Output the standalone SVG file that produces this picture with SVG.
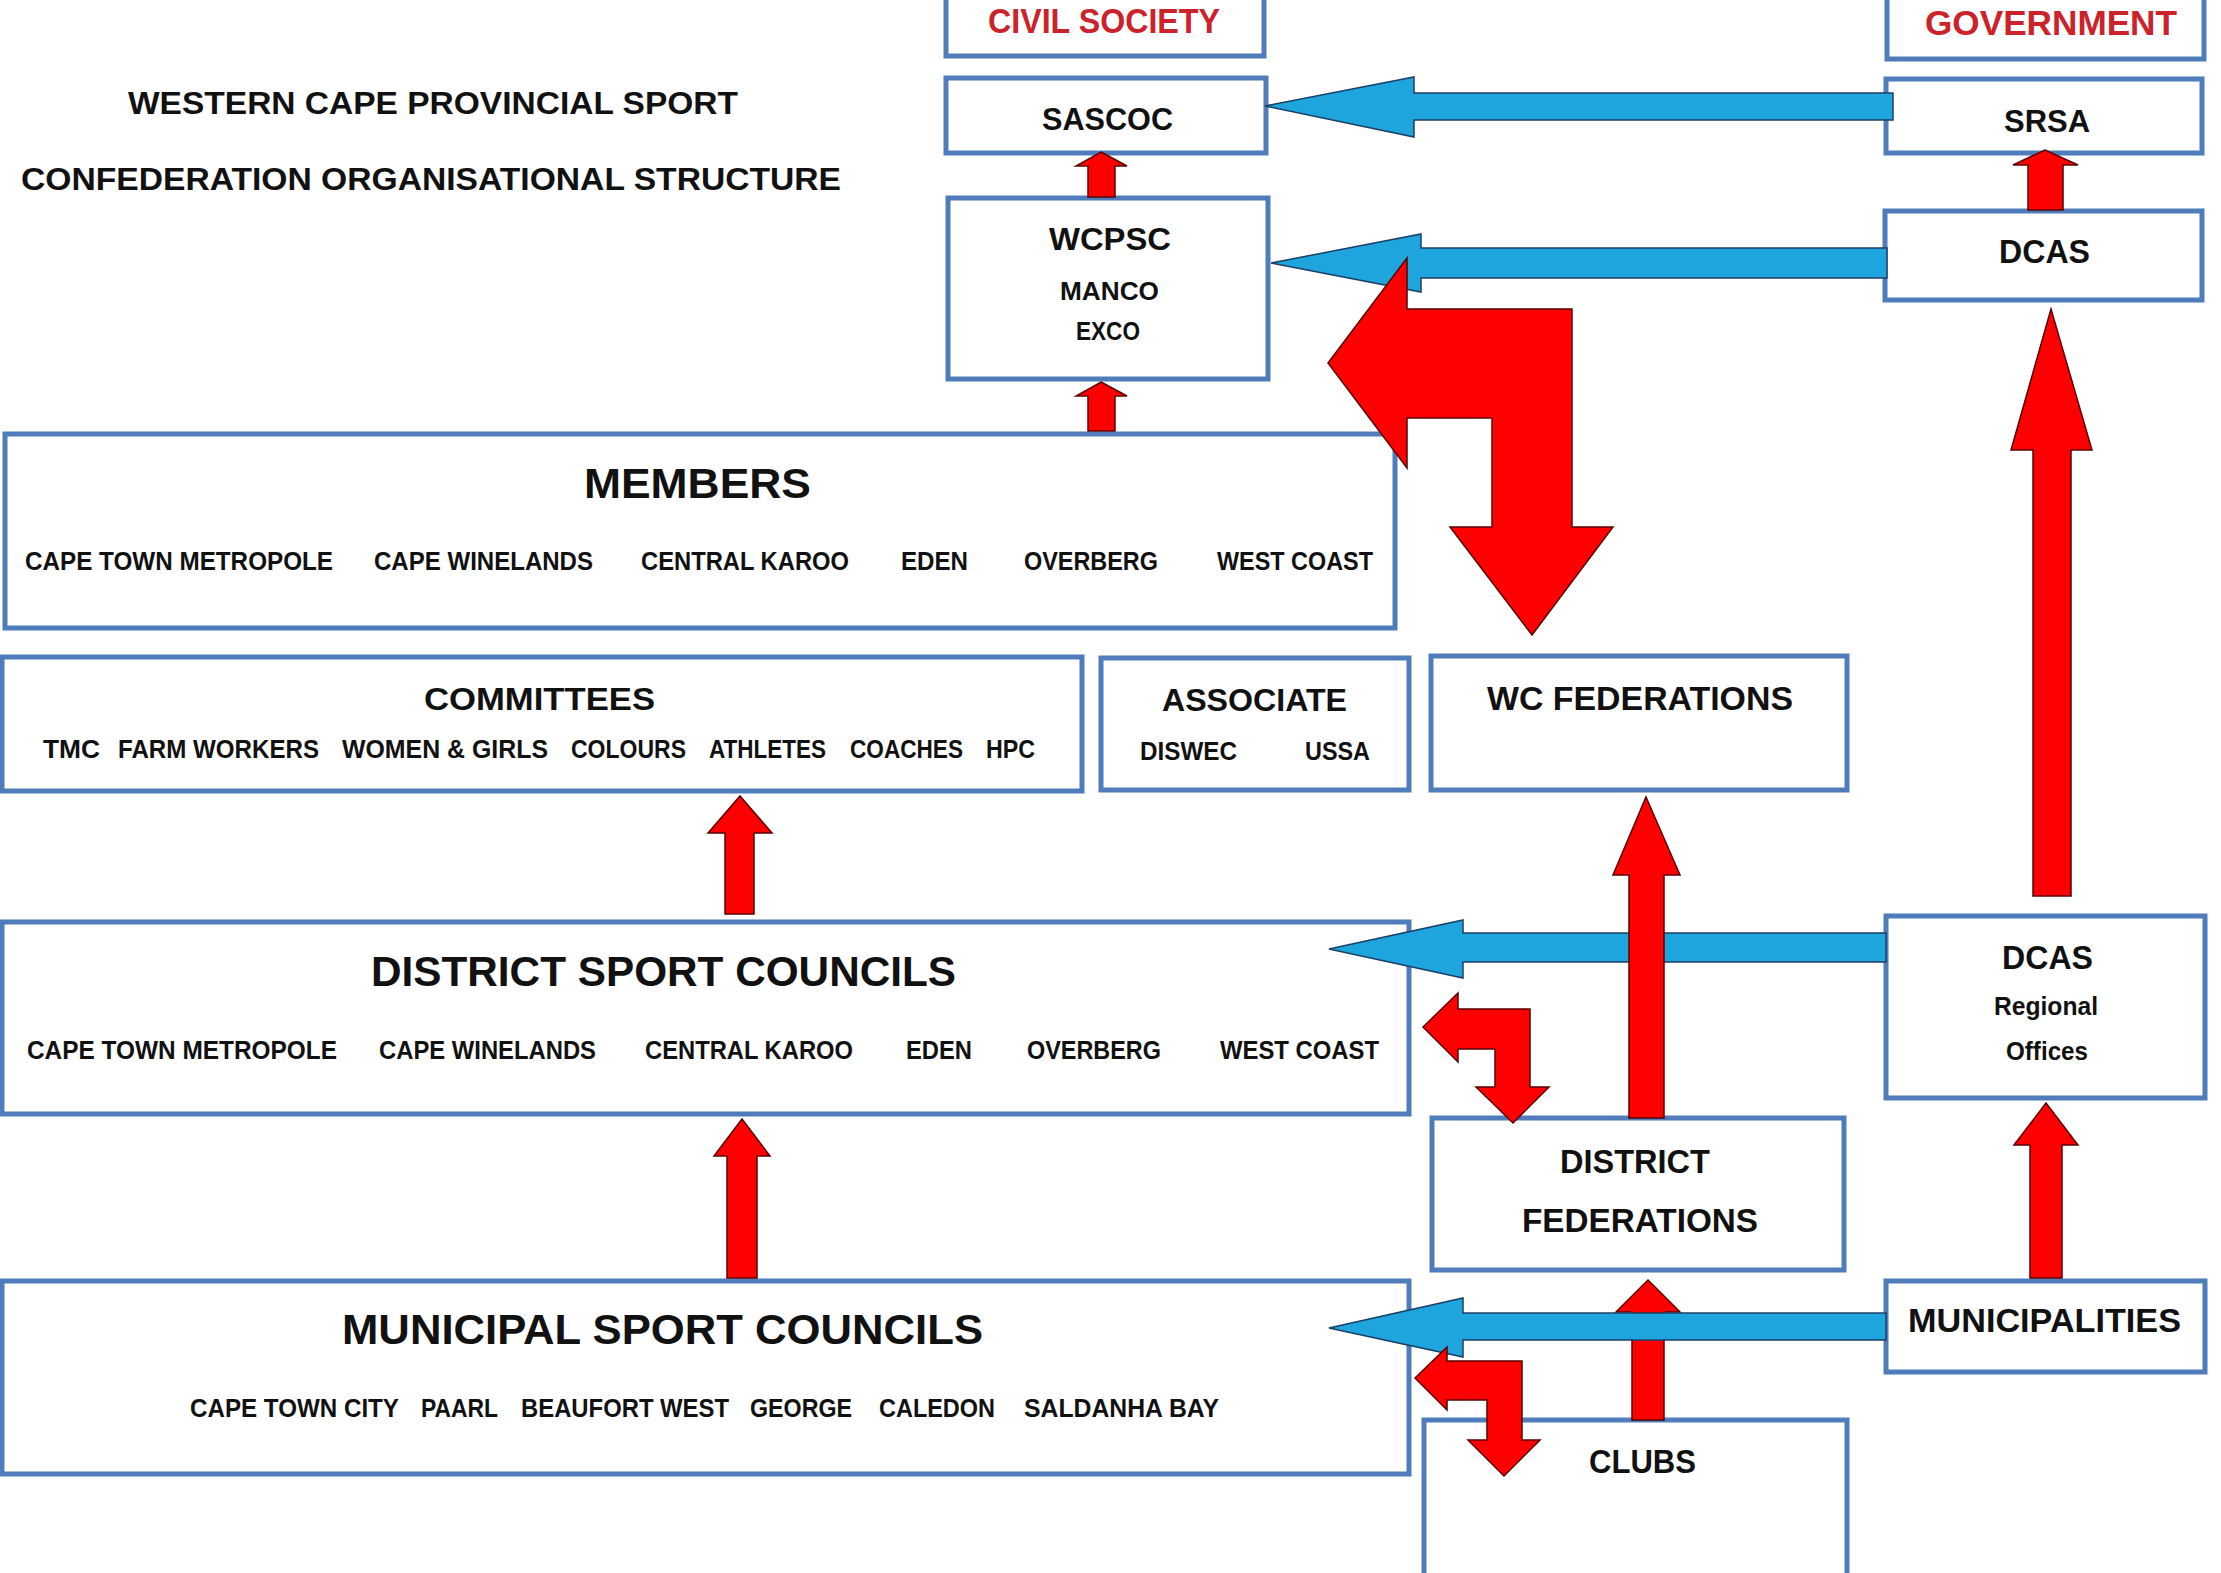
<svg xmlns="http://www.w3.org/2000/svg" width="2221" height="1573" viewBox="0 0 2221 1573">
<style>
.box{fill:#ffffff;stroke:#4f7dbb;stroke-width:5}
.t{font-family:"Liberation Sans",Arial,sans-serif;font-weight:bold;fill:#111111}
.h{font-size:32px;text-anchor:middle}
.big{font-size:43px}
.it{font-size:25px}
.red{fill:#cc2229}
.ra{fill:#ff0000;stroke:#5a0000;stroke-width:1.5;stroke-linejoin:miter}
.ba{fill:#1ea5de;stroke:#1c3f66;stroke-width:1.5}
</style>
<rect width="2221" height="1573" fill="#ffffff"/>

<g id="title">
<text class="t h" x="433" y="114" textLength="610" lengthAdjust="spacingAndGlyphs">WESTERN CAPE PROVINCIAL SPORT</text>
<text class="t h" x="431" y="190" textLength="820" lengthAdjust="spacingAndGlyphs">CONFEDERATION ORGANISATIONAL STRUCTURE</text>
</g>

<g id="civil-society">
<rect class="box" x="946" y="-10" width="318" height="66"/>
<text class="t red" x="988" y="33" font-size="35" textLength="232" lengthAdjust="spacingAndGlyphs">CIVIL SOCIETY</text>
</g>
<g id="government">
<rect class="box" x="1887" y="-10" width="317" height="69"/>
<text class="t red" x="1925" y="35" font-size="35" textLength="252" lengthAdjust="spacingAndGlyphs">GOVERNMENT</text>
</g>
<g id="sascoc">
<rect class="box" x="946" y="78" width="320" height="75"/>
<text class="t" x="1042" y="130" font-size="32" textLength="131" lengthAdjust="spacingAndGlyphs">SASCOC</text>
</g>
<g id="srsa">
<rect class="box" x="1886" y="79" width="316" height="74"/>
<text class="t" x="2004" y="132" font-size="32" textLength="86" lengthAdjust="spacingAndGlyphs">SRSA</text>
</g>
<g id="wcpsc">
<rect class="box" x="948" y="198" width="320" height="181"/>
<text class="t" x="1049" y="250" font-size="32" textLength="122" lengthAdjust="spacingAndGlyphs">WCPSC</text>
<text class="t" x="1060" y="300" font-size="25" textLength="99" lengthAdjust="spacingAndGlyphs">MANCO</text>
<text class="t" x="1076" y="340" font-size="25" textLength="64" lengthAdjust="spacingAndGlyphs">EXCO</text>
</g>
<g id="dcas">
<rect class="box" x="1885" y="211" width="317" height="89"/>
<text class="t" x="1999" y="263" font-size="33" textLength="91" lengthAdjust="spacingAndGlyphs">DCAS</text>
</g>
<g id="members">
<rect class="box" x="5" y="434" width="1390" height="194"/>
<text class="t big" x="584" y="498" textLength="227" lengthAdjust="spacingAndGlyphs">MEMBERS</text>
<text class="t it" x="25" y="570" textLength="308" lengthAdjust="spacingAndGlyphs">CAPE TOWN METROPOLE</text>
<text class="t it" x="374" y="570" textLength="219" lengthAdjust="spacingAndGlyphs">CAPE WINELANDS</text>
<text class="t it" x="641" y="570" textLength="208" lengthAdjust="spacingAndGlyphs">CENTRAL KAROO</text>
<text class="t it" x="901" y="570" textLength="67" lengthAdjust="spacingAndGlyphs">EDEN</text>
<text class="t it" x="1024" y="570" textLength="134" lengthAdjust="spacingAndGlyphs">OVERBERG</text>
<text class="t it" x="1217" y="570" textLength="156" lengthAdjust="spacingAndGlyphs">WEST COAST</text>
</g>
<g id="committees">
<rect class="box" x="2" y="657" width="1080" height="134"/>
<text class="t" x="424" y="710" font-size="32" textLength="231" lengthAdjust="spacingAndGlyphs">COMMITTEES</text>
<text class="t it" x="43" y="758" textLength="57" lengthAdjust="spacingAndGlyphs">TMC</text>
<text class="t it" x="118" y="758" textLength="201" lengthAdjust="spacingAndGlyphs">FARM WORKERS</text>
<text class="t it" x="342" y="758" textLength="206" lengthAdjust="spacingAndGlyphs">WOMEN &amp; GIRLS</text>
<text class="t it" x="571" y="758" textLength="115" lengthAdjust="spacingAndGlyphs">COLOURS</text>
<text class="t it" x="709" y="758" textLength="117" lengthAdjust="spacingAndGlyphs">ATHLETES</text>
<text class="t it" x="850" y="758" textLength="113" lengthAdjust="spacingAndGlyphs">COACHES</text>
<text class="t it" x="986" y="758" textLength="49" lengthAdjust="spacingAndGlyphs">HPC</text>
</g>
<g id="associate">
<rect class="box" x="1101" y="658" width="308" height="132"/>
<text class="t" x="1162" y="711" font-size="32" textLength="185" lengthAdjust="spacingAndGlyphs">ASSOCIATE</text>
<text class="t it" x="1140" y="760" textLength="97" lengthAdjust="spacingAndGlyphs">DISWEC</text>
<text class="t it" x="1305" y="760" textLength="65" lengthAdjust="spacingAndGlyphs">USSA</text>
</g>
<g id="wc-federations">
<rect class="box" x="1431" y="656" width="416" height="134"/>
<text class="t" x="1487" y="710" font-size="34" textLength="306" lengthAdjust="spacingAndGlyphs">WC FEDERATIONS</text>
</g>
<g id="district-sport-councils">
<rect class="box" x="2" y="922" width="1407" height="192"/>
<text class="t big" x="371" y="986" textLength="585" lengthAdjust="spacingAndGlyphs">DISTRICT SPORT COUNCILS</text>
<text class="t it" x="27" y="1059" textLength="310" lengthAdjust="spacingAndGlyphs">CAPE TOWN METROPOLE</text>
<text class="t it" x="379" y="1059" textLength="217" lengthAdjust="spacingAndGlyphs">CAPE WINELANDS</text>
<text class="t it" x="645" y="1059" textLength="208" lengthAdjust="spacingAndGlyphs">CENTRAL KAROO</text>
<text class="t it" x="906" y="1059" textLength="66" lengthAdjust="spacingAndGlyphs">EDEN</text>
<text class="t it" x="1027" y="1059" textLength="134" lengthAdjust="spacingAndGlyphs">OVERBERG</text>
<text class="t it" x="1220" y="1059" textLength="159" lengthAdjust="spacingAndGlyphs">WEST COAST</text>
</g>
<g id="dcas-regional">
<rect class="box" x="1886" y="916" width="319" height="182"/>
<text class="t" x="2002" y="969" font-size="34" textLength="91" lengthAdjust="spacingAndGlyphs">DCAS</text>
<text class="t" x="1994" y="1015" font-size="25" textLength="104" lengthAdjust="spacingAndGlyphs">Regional</text>
<text class="t" x="2006" y="1060" font-size="25" textLength="82" lengthAdjust="spacingAndGlyphs">Offices</text>
</g>
<g id="district-federations">
<rect class="box" x="1432" y="1118" width="412" height="152"/>
<text class="t" x="1560" y="1173" font-size="33" textLength="150" lengthAdjust="spacingAndGlyphs">DISTRICT</text>
<text class="t" x="1522" y="1232" font-size="33" textLength="236" lengthAdjust="spacingAndGlyphs">FEDERATIONS</text>
</g>
<g id="municipal-sport-councils">
<rect class="box" x="2" y="1281" width="1407" height="193"/>
<text class="t big" x="342" y="1344" textLength="641" lengthAdjust="spacingAndGlyphs">MUNICIPAL SPORT COUNCILS</text>
<text class="t it" x="190" y="1417" textLength="209" lengthAdjust="spacingAndGlyphs">CAPE TOWN CITY</text>
<text class="t it" x="421" y="1417" textLength="77" lengthAdjust="spacingAndGlyphs">PAARL</text>
<text class="t it" x="521" y="1417" textLength="208" lengthAdjust="spacingAndGlyphs">BEAUFORT WEST</text>
<text class="t it" x="750" y="1417" textLength="102" lengthAdjust="spacingAndGlyphs">GEORGE</text>
<text class="t it" x="879" y="1417" textLength="116" lengthAdjust="spacingAndGlyphs">CALEDON</text>
<text class="t it" x="1024" y="1417" textLength="195" lengthAdjust="spacingAndGlyphs">SALDANHA BAY</text>
</g>
<g id="municipalities">
<rect class="box" x="1886" y="1281" width="319" height="91"/>
<text class="t" x="1908" y="1332" font-size="33" textLength="273" lengthAdjust="spacingAndGlyphs">MUNICIPALITIES</text>
</g>
<g id="clubs">
<rect class="box" x="1424" y="1420" width="423" height="200"/>
<text class="t" x="1589" y="1473" font-size="33" textLength="107" lengthAdjust="spacingAndGlyphs">CLUBS</text>
</g>

<g id="connectors">
<!-- red up arrows -->
<polygon class="ra" points="1101,152 1127,166 1115,166 1115,197 1088,197 1088,166 1076,166"/>
<polygon class="ra" points="1101,382 1127,396 1115,396 1115,431 1088,431 1088,396 1076,396"/>
<polygon class="ra" points="2045,150 2078,165 2063,165 2063,210 2028,210 2028,165 2013,165"/>
<polygon class="ra" points="2051,309 2092,450 2071,450 2071,896 2033,896 2033,450 2011,450"/>
<polygon class="ra" points="740,796 772,833 754,833 754,914 725,914 725,833 708,833"/>
<polygon class="ra" points="742,1119 770,1156 757,1156 757,1278 727,1278 727,1156 714,1156"/>
<polygon class="ra" points="2046,1103 2078,1145 2062,1145 2062,1278 2030,1278 2030,1145 2014,1145"/>
<polygon class="ra" points="1648,1280 1680,1312 1664,1312 1664,1420 1632,1420 1632,1312 1616,1312"/>
<!-- blue arrows -->
<polygon class="ba" points="1265,106 1414,77 1414,93 1893,93 1893,120 1414,120 1414,137"/>
<polygon class="ba" points="1271,263 1421,234 1421,248 1887,248 1887,278 1421,278 1421,292"/>
<polygon class="ba" points="1329,949 1463,920 1463,933 1886,933 1886,962 1463,962 1463,978"/>
<polygon class="ba" points="1329,1328 1463,1298 1463,1313 1886,1313 1886,1340 1463,1340 1463,1357"/>
<!-- red arrow over blue -->
<polygon class="ra" points="1646,797 1680,875 1664,875 1664,1118 1629,1118 1629,875 1613,875"/>
<!-- bent arrows -->
<polygon class="ra" points="1328,363 1407,258 1407,309 1572,309 1572,527 1613,527 1532,635 1450,527 1492,527 1492,418 1407,418 1407,468"/>
<polygon class="ra" points="1423,1027 1458,993 1458,1009 1530,1009 1530,1087 1549,1087 1513,1123 1476,1087 1495,1087 1495,1049 1458,1049 1458,1062"/>
<polygon class="ra" points="1415,1378 1447,1347 1447,1361 1522,1361 1522,1440 1540,1440 1504,1476 1468,1440 1487,1440 1487,1400 1447,1400 1447,1410"/>
</g>
</svg>
